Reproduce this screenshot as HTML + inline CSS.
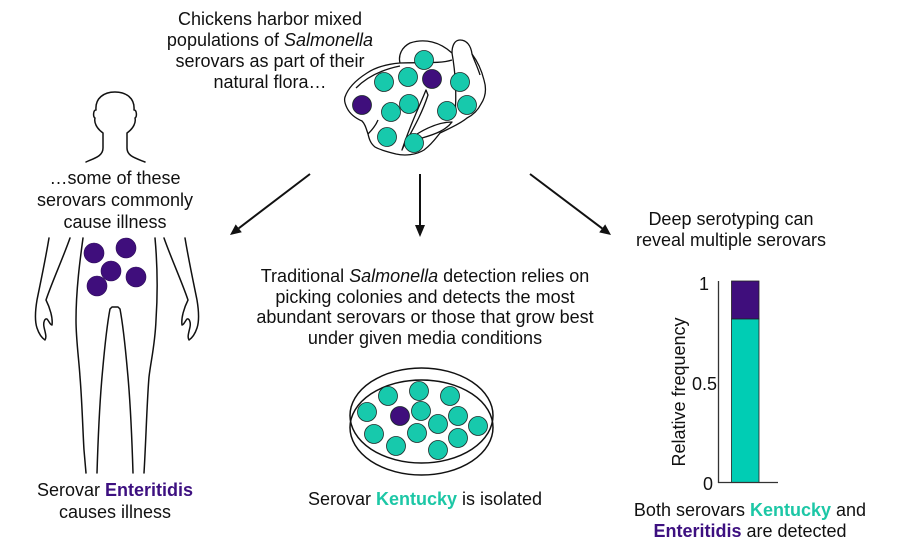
<!DOCTYPE html>
<html>
<head>
<meta charset="utf-8">
<style>
  html,body{margin:0;padding:0;background:#fff;}
  svg{display:block;}
  text{font-family:"Liberation Sans", Arial, sans-serif;font-size:18px;fill:#111;}
</style>
</head>
<body>
<svg width="900" height="550" viewBox="0 0 900 550" xmlns="http://www.w3.org/2000/svg">
  <rect width="900" height="550" fill="#fff"/>

  <!-- Top text -->
  <text x="270" y="25" text-anchor="middle">Chickens harbor mixed</text>
  <text x="270" y="46" text-anchor="middle">populations of <tspan font-style="italic">Salmonella</tspan></text>
  <text x="270" y="67" text-anchor="middle">serovars as part of their</text>
  <text x="270" y="88" text-anchor="middle">natural flora…</text>

  <!-- Chicken -->
  <g fill="none" stroke="#111" stroke-width="1.3" stroke-linejoin="round">
    <path d="M345,97 C348,88 356,80 367,73 C376,67 388,64 400,63 C398,55 402,47 410,43 C425,38 440,42 452,53 C452,45 455,40 460,40 C467,40 471,46 472,54 C478,62 482,72 484,80 C487,90 485,98 481,104 C478,110 473,115 467,118 C460,124 450,128 440,133 C436,138 432,144 424,150 C416,155 405,156 396,154 C388,152 380,150 375,147 C370,143 369,138 368,134 C366,128 365,124 362,121 C355,118 350,114 347,108 C345,104 344,100 345,97 Z"/>
    <path d="M356,88 C366,78 380,70 400,66"/>
    <path d="M400,63 C420,62 440,64 452,60"/>
    <path d="M452,53 C455,70 457,90 455,115"/>
    <path d="M426,90 C420,105 410,125 402,150 C406,140 420,120 428,95 Z"/>
    <path d="M417,134 C430,126 442,122 452,122 C446,130 436,134 422,138"/>
    <path d="M368,134 C372,130 376,125 378,120"/>
    <path d="M472,54 C474,60 478,68 480,75"/>
  </g>
  <g stroke="#1a2a28" stroke-width="0.8">
    <circle cx="424" cy="60" r="9.5" fill="#17c9ac"/>
    <circle cx="384" cy="82" r="9.5" fill="#17c9ac"/>
    <circle cx="408" cy="77" r="9.5" fill="#17c9ac"/>
    <circle cx="432" cy="79" r="9.5" fill="#3f0e7c"/>
    <circle cx="460" cy="82" r="9.5" fill="#17c9ac"/>
    <circle cx="362" cy="105" r="9.5" fill="#3f0e7c"/>
    <circle cx="391" cy="112" r="9.5" fill="#17c9ac"/>
    <circle cx="409" cy="104" r="9.5" fill="#17c9ac"/>
    <circle cx="447" cy="111" r="9.5" fill="#17c9ac"/>
    <circle cx="467" cy="105" r="9.5" fill="#17c9ac"/>
    <circle cx="387" cy="137" r="9.5" fill="#17c9ac"/>
    <circle cx="414" cy="143" r="9.5" fill="#17c9ac"/>
  </g>

  <!-- Arrows -->
  <g stroke="#111" stroke-width="2" fill="none">
    <line x1="310" y1="174" x2="238.7" y2="228.3"/>
    <line x1="420" y1="174" x2="420" y2="226"/>
    <line x1="530" y1="174" x2="602.2" y2="228.4"/>
  </g>
  <g fill="#111">
    <polygon points="230,235 241.8,232.3 235.7,224.4"/>
    <polygon points="420,237 415,225 425,225"/>
    <polygon points="611,235 599.2,232.4 605.2,224.4"/>
  </g>

  <!-- Human -->
  <g fill="none" stroke="#111" stroke-width="1.5" stroke-linejoin="round" stroke-linecap="round">
    <path d="M86,162 C95,158 103,156 103,148 L103,133 C96,128 94,122 95,118 C93,117 93,110 96,110 C95,98 104,92 115,92 C126,92 135,98 134,110 C137,110 137,117 135,118 C136,122 134,128 127,133 L127,148 C127,156 135,158 145,162"/>
    <!-- left arm -->
    <path d="M49,238 C45,262 40,285 37,300 C35,312 35,322 37,328 C39,334 42,338 45,340 C47,337 45,332 44,327 C43,322 45,318 47,319 C49,321 50,325 52,325 C53,318 50,308 46,300 C52,282 63,258 70,238"/>
    <!-- right arm -->
    <path d="M185,238 C189,262 194,285 197,300 C199,312 199,322 197,328 C195,334 192,338 189,340 C187,337 189,332 190,327 C191,322 189,318 187,319 C185,321 184,325 182,325 C181,318 184,308 188,300 C182,282 171,258 164,238"/>
    <!-- torso/legs -->
    <path d="M83,238 C80,260 76,290 76,320 C76,340 79,360 80,377 C82,400 83,435 84,450 L86,473"/>
    <path d="M97,473 C98,440 100,400 102,377 C104,355 106,330 110,309 L112,307 L118,307 L120,309 C124,330 126,355 128,377 C130,400 132,440 133,473"/>
    <path d="M155,238 C157,260 158,290 156,320 C155,345 151,360 149,377 C147,400 146,440 144,473"/>
  </g>
  <g fill="#3f0e7c" stroke="#2a0a55" stroke-width="0.6">
    <circle cx="94" cy="253" r="10"/>
    <circle cx="126" cy="248" r="10"/>
    <circle cx="111" cy="271" r="10"/>
    <circle cx="136" cy="277" r="10"/>
    <circle cx="97" cy="286" r="10"/>
  </g>

  <!-- Left texts -->
  <text x="115" y="184" text-anchor="middle">…some of these</text>
  <text x="115" y="206" text-anchor="middle">serovars commonly</text>
  <text x="115" y="228" text-anchor="middle">cause illness</text>
  <text x="115" y="496" text-anchor="middle">Serovar <tspan font-weight="bold" fill="#3d1080">Enteritidis</tspan></text>
  <text x="115" y="518" text-anchor="middle">causes illness</text>

  <!-- Middle text -->
  <text x="425" y="282" text-anchor="middle">Traditional <tspan font-style="italic">Salmonella</tspan> detection relies on</text>
  <text x="425" y="303" text-anchor="middle">picking colonies and detects the most</text>
  <text x="425" y="323" text-anchor="middle">abundant serovars or those that grow best</text>
  <text x="425" y="344" text-anchor="middle">under given media conditions</text>

  <!-- Petri dish -->
  <g fill="none" stroke="#111" stroke-width="1.5">
    <ellipse cx="421.5" cy="415.5" rx="71.5" ry="47.5"/>
    <ellipse cx="421.5" cy="427.5" rx="71.5" ry="47.5"/>
  </g>
  <g stroke="#1a2a28" stroke-width="0.8" fill="#17c9ac">
    <circle cx="388" cy="396" r="9.5"/>
    <circle cx="419" cy="391" r="9.5"/>
    <circle cx="450" cy="396" r="9.5"/>
    <circle cx="367" cy="412" r="9.5"/>
    <circle cx="400" cy="416" r="9.5" fill="#3f0e7c"/>
    <circle cx="421" cy="411" r="9.5"/>
    <circle cx="458" cy="416" r="9.5"/>
    <circle cx="374" cy="434" r="9.5"/>
    <circle cx="417" cy="433" r="9.5"/>
    <circle cx="438" cy="424" r="9.5"/>
    <circle cx="478" cy="426" r="9.5"/>
    <circle cx="396" cy="446" r="9.5"/>
    <circle cx="458" cy="438" r="9.5"/>
    <circle cx="438" cy="450" r="9.5"/>
  </g>
  <text x="425" y="505" text-anchor="middle">Serovar <tspan font-weight="bold" fill="#1dc7a6">Kentucky</tspan> is isolated</text>

  <!-- Right text -->
  <text x="731" y="225" text-anchor="middle">Deep serotyping can</text>
  <text x="731" y="246" text-anchor="middle">reveal multiple serovars</text>

  <!-- Chart -->
  <rect x="731.5" y="281" width="27.5" height="38" fill="#3f0e7c" stroke="#222" stroke-width="0.8"/>
  <rect x="731.5" y="319" width="27.5" height="163.5" fill="#00cdb4" stroke="#222" stroke-width="0.8"/>
  <g stroke="#333" stroke-width="1.3">
    <line x1="718.5" y1="281" x2="718.5" y2="483"/>
    <line x1="718" y1="482.5" x2="778" y2="482.5"/>
  </g>
  <text x="709" y="290" text-anchor="end">1</text>
  <text x="717" y="390" text-anchor="end">0.5</text>
  <text x="713" y="490" text-anchor="end">0</text>
  <text transform="translate(685,392) rotate(-90)" text-anchor="middle">Relative frequency</text>

  <text x="750" y="516" text-anchor="middle">Both serovars <tspan font-weight="bold" fill="#1dc7a6">Kentucky</tspan> and</text>
  <text x="750" y="537" text-anchor="middle"><tspan font-weight="bold" fill="#3d1080">Enteritidis</tspan> are detected</text>
</svg>
</body>
</html>
